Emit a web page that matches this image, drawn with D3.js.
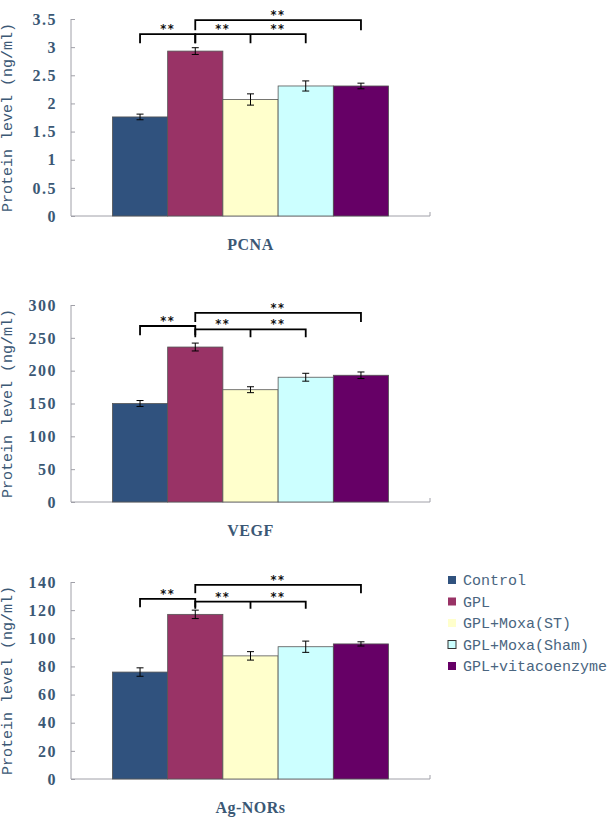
<!DOCTYPE html>
<html>
<head>
<meta charset="utf-8">
<script src="https://cdn.jsdelivr.net/npm/d3@7/dist/d3.min.js"></script>
<style>
  html, body { margin: 0; padding: 0; background: #ffffff; }
  svg { display: block; }
</style>
</head>
<body>
<svg id="chart" width="607" height="824"></svg>
<script>
// ---------------- DATA ----------------
const groups = ["Control", "GPL", "GPL+Moxa(ST)", "GPL+Moxa(Sham)", "GPL+vitacoenzyme"];
const groupColors = ["#30527e", "#993366", "#ffffcc", "#ccffff", "#660066"];

const panelTitles = ["PCNA", "VEGF", "Ag-NORs"];
const yAxisTitle = "Protein level (ng/ml)";

const pcnaValues = [1.76, 2.93, 2.07, 2.31, 2.31];
const pcnaErrors = [0.05, 0.06, 0.10, 0.09, 0.05];
const pcnaTicks = [0, 0.5, 1, 1.5, 2, 2.5, 3, 3.5];

const vegfValues = [150, 236, 171, 190, 193];
const vegfErrors = [4.5, 6, 4.5, 6, 5];
const vegfTicks = [0, 50, 100, 150, 200, 250, 300];

const agnorValues = [76, 117, 87.5, 94, 96];
const agnorErrors = [3, 3, 3, 4, 1.5];
const agnorTicks = [0, 20, 40, 60, 80, 100, 120, 140];

// significance brackets (levels in data units)
const pcnaBrackets = [
  { from: "Control", to: "GPL", mids: [], level: 3.23, leg: 3.07, label: "**" },
  { from: "GPL", to: "GPL+Moxa(Sham)", mids: ["GPL+Moxa(ST)"], level: 3.23, leg: 3.07, label: "**" },
  { from: "GPL", to: "GPL+vitacoenzyme", mids: [], level: 3.48, leg: 3.30, label: "**" }
];
const vegfBrackets = [
  { from: "Control", to: "GPL", mids: [], level: 268, leg: 254, label: "**" },
  { from: "GPL", to: "GPL+Moxa(Sham)", mids: ["GPL+Moxa(ST)"], level: 263, leg: 251, label: "**" },
  { from: "GPL", to: "GPL+vitacoenzyme", mids: [], level: 288, leg: 274, label: "**" }
];
const agnorBrackets = [
  { from: "Control", to: "GPL", mids: [], level: 128, leg: 122, label: "**" },
  { from: "GPL", to: "GPL+Moxa(Sham)", mids: ["GPL+Moxa(ST)"], level: 126, leg: 121, label: "**" },
  { from: "GPL", to: "GPL+vitacoenzyme", mids: [], level: 138, leg: 132, label: "**" }
];

const panels = [
  { title: panelTitles[0], values: pcnaValues, errors: pcnaErrors, ticks: pcnaTicks, brackets: pcnaBrackets },
  { title: panelTitles[1], values: vegfValues, errors: vegfErrors, ticks: vegfTicks, brackets: vegfBrackets },
  { title: panelTitles[2], values: agnorValues, errors: agnorErrors, ticks: agnorTicks, brackets: agnorBrackets }
];

// ---------------- LAYOUT ----------------
const plotLeft = 71, plotRight = 430;
const panelTops = [19, 305, 582];
const plotH = 197;
const textColor = "#3b5875";
const axisColor = "#a0a0a8";

const svg = d3.select("#chart");

const x = d3.scaleBand().domain(groups).range([plotLeft, plotRight])
  .paddingInner(0).paddingOuter(0.75);
const color = d3.scaleOrdinal().domain(groups).range(groupColors);

panels.forEach((p, pi) => {
  const top = panelTops[pi];
  const bottom = top + plotH;
  const y = d3.scaleLinear().domain([0, d3.max(p.ticks)]).range([bottom, top]);
  const g = svg.append("g");

  // y axis
  const yAxis = d3.axisRight(y).tickValues(p.ticks).tickSize(4).tickFormat("");
  const ya = g.append("g").attr("transform", `translate(${plotLeft},0)`).call(yAxis);
  ya.select(".domain").attr("stroke", axisColor).attr("d", `M0,${top}V${bottom}`);
  ya.selectAll(".tick line").attr("stroke", axisColor);

  // tick labels
  g.selectAll("text.ytick").data(p.ticks).enter().append("text")
    .attr("class", "ytick")
    .attr("x", plotLeft - 14)
    .attr("y", d => y(d))
    .attr("dy", "0.36em")
    .attr("text-anchor", "end")
    .attr("font-family", "'Liberation Serif', serif")
    .attr("font-weight", "bold")
    .attr("font-size", 16)
    .attr("letter-spacing", 1.5)
    .attr("fill", textColor)
    .text(d => d3.format("~g")(d));

  // x axis line
  const xAxis = d3.axisBottom(x).tickSize(0).tickFormat("");
  const xa = g.append("g").attr("transform", `translate(0,${bottom})`).call(xAxis);
  xa.select(".domain").attr("stroke", axisColor).attr("d", `M${plotLeft},0H${plotRight}V-4`);

  // y axis title
  g.append("text")
    .attr("transform", `translate(12,${(top + bottom) / 2}) rotate(-90)`)
    .attr("text-anchor", "middle")
    .attr("font-family", "'Liberation Mono', monospace")
    .attr("font-size", 15)
    .attr("fill", textColor)
    .text(yAxisTitle);

  // bars
  g.selectAll("rect.bar").data(groups).enter().append("rect")
    .attr("class", "bar")
    .attr("x", d => x(d))
    .attr("width", x.bandwidth())
    .attr("y", (d, i) => y(p.values[i]))
    .attr("height", (d, i) => bottom - y(p.values[i]))
    .attr("fill", d => color(d))
    .attr("stroke", "#555")
    .attr("stroke-width", 0.8);

  // error bars
  const cap = 3.5;
  const eb = g.selectAll("g.err").data(groups).enter().append("g").attr("class", "err");
  eb.append("line")
    .attr("x1", d => x(d) + x.bandwidth() / 2).attr("x2", d => x(d) + x.bandwidth() / 2)
    .attr("y1", (d, i) => y(p.values[i] + p.errors[i]))
    .attr("y2", (d, i) => y(p.values[i] - p.errors[i]))
    .attr("stroke", "#000").attr("stroke-width", 1);
  [1, -1].forEach(s => {
    eb.append("line")
      .attr("x1", d => x(d) + x.bandwidth() / 2 - cap).attr("x2", d => x(d) + x.bandwidth() / 2 + cap)
      .attr("y1", (d, i) => y(p.values[i] + s * p.errors[i]))
      .attr("y2", (d, i) => y(p.values[i] + s * p.errors[i]))
      .attr("stroke", "#000").attr("stroke-width", 1);
  });

  // significance brackets
  const cx = d => x(d) + x.bandwidth() / 2;
  p.brackets.forEach(b => {
    const x1 = cx(b.from), x2 = cx(b.to);
    const yl = y(b.level), yg = y(b.leg);
    let path = `M${x1},${yg}V${yl}H${x2}V${yg}`;
    b.mids.forEach(m => { path += `M${cx(m)},${yl}V${yg}`; });
    g.append("path").attr("d", path).attr("fill", "none")
      .attr("stroke", "#000").attr("stroke-width", 1.8);
    const stops = [b.from].concat(b.mids).concat([b.to]);
    for (let k = 0; k < stops.length - 1; k++) {
      const sx = (cx(stops[k]) + cx(stops[k + 1])) / 2;
      g.append("text")
        .attr("x", sx).attr("y", yl - 1)
        .attr("text-anchor", "middle")
        .attr("font-family", "'DejaVu Sans', sans-serif")
        .attr("font-weight", "bold")
        .attr("font-size", 11.5)
        .attr("letter-spacing", 1.5)
        .attr("fill", "#111")
        .text(b.label);
    }
  });

  // category label
  g.append("text")
    .attr("x", (plotLeft + plotRight) / 2)
    .attr("y", bottom + 34)
    .attr("text-anchor", "middle")
    .attr("font-family", "'Liberation Serif', serif")
    .attr("font-weight", "bold")
    .attr("font-size", 16)
    .attr("letter-spacing", 0.5)
    .attr("fill", textColor)
    .text(p.title);
});

// ---------------- LEGEND ----------------
const legend = svg.append("g").attr("transform", "translate(448,580)");
const rowH = 21.5;
const items = legend.selectAll("g").data(groups).enter().append("g")
  .attr("transform", (d, i) => `translate(0,${i * rowH})`);
items.append("rect")
  .attr("x", 0).attr("y", -4).attr("width", 8).attr("height", 8)
  .attr("fill", d => color(d))
  .attr("stroke", (d, i) => i === 3 ? "#333" : "none")
  .attr("stroke-width", 1);
items.append("text")
  .attr("x", 15).attr("y", 0).attr("dy", "0.35em")
  .attr("font-family", "'Liberation Mono', monospace")
  .attr("font-size", 15)
  .attr("fill", "#4a6580")
  .text(d => d);
</script>
</body>
</html>
